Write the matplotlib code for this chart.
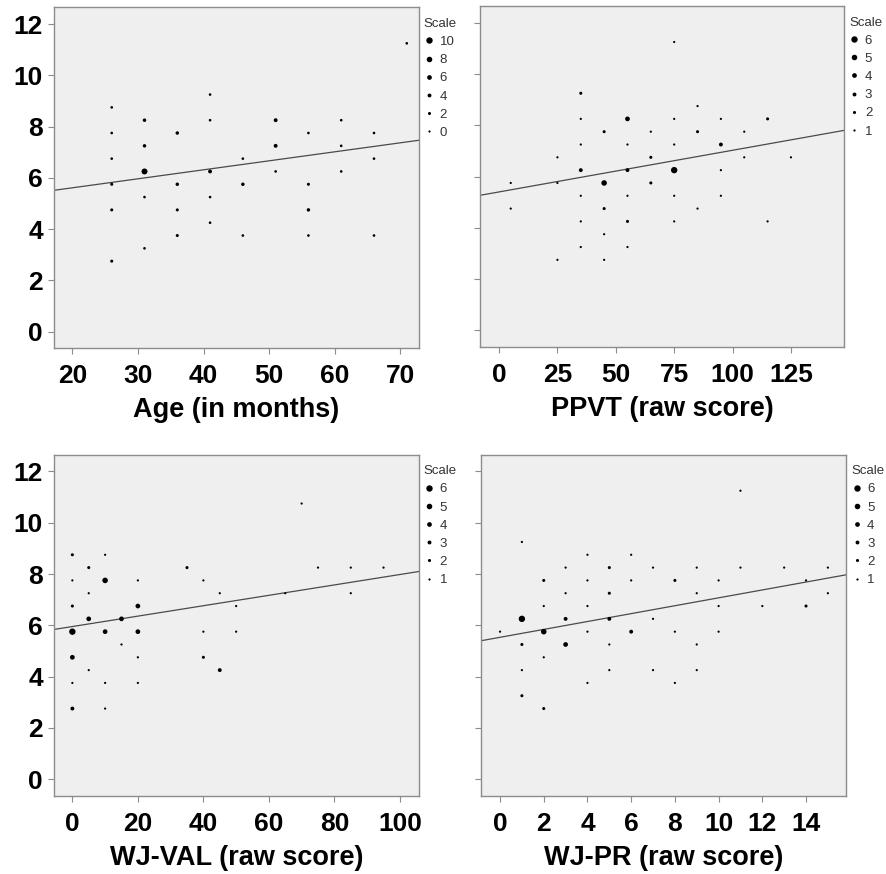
import numpy as np
import matplotlib.pyplot as plt
from matplotlib.lines import Line2D

plt.rcParams['font.family'] = ['Liberation Sans', 'DejaVu Sans']

# Age (in months): x, y, number of cases at that point
age_x = [26, 26, 26, 26, 26, 26,
         31, 31, 31, 31, 31,
         36, 36, 36, 36,
         41, 41, 41, 41, 41,
         46, 46, 46,
         51, 51, 51,
         56, 56, 56, 56,
         61, 61, 61,
         66, 66, 66,
         71]
age_y = [8.75, 7.75, 6.75, 5.75, 4.75, 2.75,
         8.25, 7.25, 6.25, 5.25, 3.25,
         7.75, 5.75, 4.75, 3.75,
         9.25, 8.25, 6.25, 5.25, 4.25,
         6.75, 5.75, 3.75,
         8.25, 7.25, 6.25,
         7.75, 5.75, 4.75, 3.75,
         8.25, 7.25, 6.25,
         7.75, 6.75, 3.75,
         11.25]
age_n = [1, 1, 1, 2, 2, 2,
         3, 3, 9, 1, 1,
         3, 3, 2, 2,
         1, 1, 4, 1, 1,
         1, 3, 1,
         4, 4, 1,
         1, 2, 3, 1,
         1, 1, 1,
         1, 1, 1,
         1]

# PPVT (raw score)
ppvt_x = [5, 5,
          25, 25, 25,
          35, 35, 35, 35, 35, 35, 35,
          45, 45, 45, 45, 45,
          55, 55, 55, 55, 55, 55,
          65, 65, 65,
          75, 75, 75, 75, 75, 75,
          85, 85, 85,
          95, 95, 95, 95,
          105, 105,
          115, 115,
          125]
ppvt_y = [5.75, 4.75,
          6.75, 5.75, 2.75,
          9.25, 8.25, 7.25, 6.25, 5.25, 4.25, 3.25,
          7.75, 5.75, 4.75, 3.75, 2.75,
          8.25, 7.25, 6.25, 5.25, 4.25, 3.25,
          7.75, 6.75, 5.75,
          11.25, 8.25, 7.25, 6.25, 5.25, 4.25,
          8.75, 7.75, 4.75,
          8.25, 7.25, 6.25, 5.25,
          7.75, 6.75,
          8.25, 4.25,
          6.75]
ppvt_n = [1, 1,
          1, 1, 1,
          2, 1, 1, 3, 1, 1, 1,
          2, 5, 2, 1, 1,
          4, 1, 3, 1, 2, 1,
          1, 2, 2,
          1, 1, 1, 6, 1, 1,
          1, 2, 1,
          1, 3, 1, 1,
          1, 1,
          2, 1,
          1]

# WJ-VAL (raw score)
val_x = [0, 0, 0, 0, 0, 0, 0,
         5, 5, 5, 5,
         10, 10, 10, 10, 10,
         15, 15,
         20, 20, 20, 20, 20,
         35,
         40, 40, 40,
         45, 45,
         50, 50,
         65, 70, 75,
         85, 85,
         95]
val_y = [8.75, 7.75, 6.75, 5.75, 4.75, 3.75, 2.75,
         8.25, 7.25, 6.25, 4.25,
         8.75, 7.75, 5.75, 3.75, 2.75,
         6.25, 5.25,
         7.75, 6.75, 5.75, 4.75, 3.75,
         8.25,
         7.75, 5.75, 4.75,
         7.25, 4.25,
         6.75, 5.75,
         7.25, 10.75, 8.25,
         8.25, 7.25,
         8.25]
val_n = [2, 1, 2, 6, 4, 1, 3,
         2, 1, 4, 1,
         1, 5, 4, 1, 1,
         4, 1,
         1, 4, 4, 1, 1,
         2,
         1, 1, 2,
         1, 3,
         1, 1,
         1, 1, 1,
         1, 1,
         1]

# WJ-PR (raw score)
pr_x = [0,
        1, 1, 1, 1, 1,
        2, 2, 2, 2, 2,
        3, 3, 3, 3,
        4, 4, 4, 4, 4,
        5, 5, 5, 5, 5,
        6, 6, 6,
        7, 7, 7,
        8, 8, 8,
        9, 9, 9, 9,
        10, 10, 10,
        11, 11,
        12, 13,
        14, 14,
        15, 15]
pr_y = [5.75,
        9.25, 6.25, 5.25, 4.25, 3.25,
        7.75, 6.75, 5.75, 4.75, 2.75,
        8.25, 7.25, 6.25, 5.25,
        8.75, 7.75, 6.75, 5.75, 3.75,
        8.25, 7.25, 6.25, 5.25, 4.25,
        8.75, 7.75, 5.75,
        8.25, 6.25, 4.25,
        7.75, 5.75, 3.75,
        8.25, 7.25, 5.25, 4.25,
        7.75, 6.75, 5.75,
        11.25, 8.25,
        6.75, 8.25,
        7.75, 6.75,
        8.25, 7.25]
pr_n = [1,
        1, 6, 2, 1, 2,
        2, 1, 5, 1, 2,
        1, 1, 3, 4,
        1, 1, 1, 1, 1,
        2, 2, 3, 1, 1,
        1, 1, 3,
        1, 1, 1,
        2, 1, 1,
        1, 1, 1, 1,
        1, 1, 1,
        1, 1,
        1, 1,
        1, 2,
        1, 1]

# fit lines: intercept, slope
age_fit = (4.91, 0.0351)
ppvt_fit = (5.40, 0.01625)
val_fit = (5.95, 0.0203)
pr_fit = (5.53, 0.154)

age_scale = [10, 8, 6, 4, 2, 0]
count_scale = [6, 5, 4, 3, 2, 1]


def dot_diam(n, lo, hi):
    return 1.6 + (np.asarray(n) - lo) / (hi - lo) * 3.0


fig = plt.figure(figsize=(8.87, 8.74), dpi=100)

panels = [
    ([0.0609, 0.6015, 0.411, 0.390], age_x, age_y, age_n, age_fit, age_scale,
     (17.2, 72.8), np.arange(20, 71, 10), "Age (in months)", True),
    ([0.5412, 0.6030, 0.410, 0.390], ppvt_x, ppvt_y, ppvt_n, ppvt_fit, count_scale,
     (-8.14, 147.6), np.arange(0, 126, 25), "PPVT (raw score)", False),
    ([0.0609, 0.0896, 0.411, 0.390], val_x, val_y, val_n, val_fit, count_scale,
     (-5.6, 105.7), np.arange(0, 101, 20), "WJ-VAL (raw score)", True),
    ([0.5428, 0.0896, 0.411, 0.390], pr_x, pr_y, pr_n, pr_fit, count_scale,
     (-0.85, 15.83), np.arange(0, 15, 2), "WJ-PR (raw score)", False),
]

for rect, x, y, n, fit, scale, xlim, xticks, xlabel, show_y in panels:
    ax = fig.add_axes(rect)
    ax.set_facecolor("#efefef")
    lo, hi = min(scale), max(scale)
    ax.scatter(x, y, s=dot_diam(n, lo, hi) ** 2, color="black", linewidths=0, zorder=3)
    ax.axline((0, fit[0]), slope=fit[1], color="#4a4a4a", lw=0.9, zorder=2)

    ax.set_xlim(xlim)
    ax.set_ylim(-0.65, 12.65)
    ax.set_xticks(xticks)
    ax.set_yticks(np.arange(0, 13, 2))
    if not show_y:
        ax.set_yticklabels([])
    for sp in ax.spines.values():
        sp.set_color("#8c8c8c")
        sp.set_linewidth(1.0)
    ax.tick_params(length=4, width=0.8, color="#8c8c8c", labelsize=19)
    ax.tick_params(axis="x", pad=7.5)
    ax.tick_params(axis="y", pad=4)
    for lab in ax.get_xticklabels() + ax.get_yticklabels():
        lab.set_fontweight("bold")
    ax.set_xlabel(xlabel, fontsize=19.5, fontweight="bold", labelpad=6.5)

    handles = [Line2D([], [], ls="none", marker="o", color="black",
                      markersize=dot_diam(v, lo, hi), markeredgewidth=0)
               for v in scale]
    leg = ax.legend(handles, [str(v) for v in scale], title="Scale",
                    loc="upper left", bbox_to_anchor=(1.0, 0.985),
                    frameon=False, fontsize=9.5, title_fontsize=9.5,
                    handlelength=0.8, handletextpad=0.4, labelspacing=0.45,
                    borderaxespad=0.3, borderpad=0.1, alignment="left")
    for t in leg.get_texts():
        t.set_color("#333333")
    leg.get_title().set_color("#333333")

fig.savefig("out.png", dpi=100)
